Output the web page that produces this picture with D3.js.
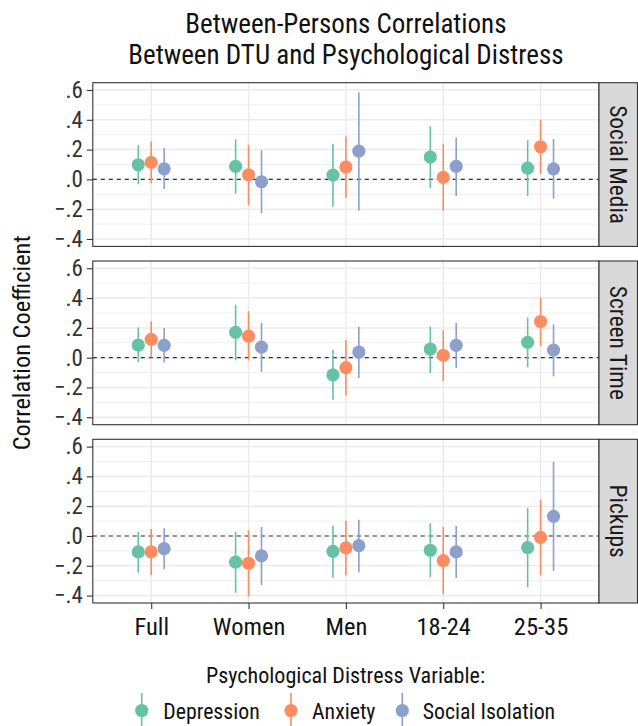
<!DOCTYPE html>
<html>
<head>
<meta charset="utf-8">
<script src="https://cdn.jsdelivr.net/npm/d3@7"></script>
<style>
  body { margin: 0; background: #fff; }
  svg { display: block; font-family: "Liberation Sans Narrow", "Roboto Condensed", "DejaVu Sans Condensed", sans-serif; }
</style>
</head>
<body>
<svg id="chart" width="638" height="726"></svg>
<script>
const categories = ['Full', 'Women', 'Men', '18-24', '25-35'];
const facets = ['Social Media', 'Screen Time', 'Pickups'];
const seriesNames = ['Depression', 'Anxiety', 'Social Isolation'];
const seriesColors = ['#66c2a5', '#fc8d62', '#8da0cb'];
const yTicks = [-0.4, -0.2, 0, 0.2, 0.4, 0.6];
const yMinor = [-0.3, -0.1, 0.1, 0.3, 0.5];

// [estimate, lower, upper] per category
const socialMediaDepression = [[0.098, -0.033, 0.230], [0.087, -0.096, 0.270], [0.029, -0.183, 0.239], [0.150, -0.058, 0.357], [0.076, -0.112, 0.263]];
const socialMediaAnxiety = [[0.114, -0.027, 0.254], [0.031, -0.174, 0.232], [0.083, -0.123, 0.288], [0.013, -0.210, 0.239], [0.219, 0.036, 0.400]];
const socialMediaIsolation = [[0.071, -0.065, 0.210], [-0.016, -0.228, 0.196], [0.190, -0.210, 0.583], [0.087, -0.112, 0.281], [0.071, -0.129, 0.270]];

const screenTimeDepression = [[0.085, -0.029, 0.203], [0.170, -0.018, 0.355], [-0.116, -0.283, 0.054], [0.058, -0.103, 0.208], [0.103, -0.065, 0.270]];
const screenTimeAnxiety = [[0.123, 0.002, 0.243], [0.145, -0.018, 0.312], [-0.067, -0.252, 0.118], [0.016, -0.156, 0.185], [0.243, 0.078, 0.404]];
const screenTimeIsolation = [[0.083, -0.033, 0.199], [0.071, -0.096, 0.234], [0.038, -0.136, 0.208], [0.083, -0.069, 0.232], [0.051, -0.125, 0.223]];

const pickupsDepression = [[-0.107, -0.246, 0.029], [-0.176, -0.382, 0.029], [-0.103, -0.279, 0.069], [-0.096, -0.277, 0.085], [-0.078, -0.344, 0.188]];
const pickupsAnxiety = [[-0.107, -0.263, 0.047], [-0.183, -0.404, 0.038], [-0.080, -0.263, 0.103], [-0.165, -0.390, 0.060], [-0.009, -0.263, 0.243]];
const pickupsIsolation = [[-0.085, -0.223, 0.051], [-0.134, -0.330, 0.060], [-0.065, -0.243, 0.109], [-0.107, -0.283, 0.067], [0.132, -0.234, 0.498]];

const facetData = [
    [socialMediaDepression, socialMediaAnxiety, socialMediaIsolation],
    [screenTimeDepression, screenTimeAnxiety, screenTimeIsolation],
    [pickupsDepression, pickupsAnxiety, pickupsIsolation]
];

const PANEL_LEFT = 92.8;
const PANEL_RIGHT = 599;
const STRIP_W = 38.5;
const PANEL_H = 163.7;
const PANEL_TOPS = [82.7, 261, 439.3];
const DODGE = 0.133;
const POINT_R = 6.6;
const INK = '#333333';

const svg = d3.select('#chart');

const x = d3.scalePoint()
    .domain(categories)
    .range([PANEL_LEFT, PANEL_RIGHT])
    .padding(0.6);

const fmt = v => (v < -1e-9 ? '\u2212' : '') + Math.abs(v).toFixed(1).replace(/^0/, '');

// title
const title = svg.append('g')
    .attr('font-size', 27)
    .attr('fill', '#111')
    .attr('text-anchor', 'middle');
title.append('text').attr('x', (PANEL_LEFT + PANEL_RIGHT) / 2).attr('y', 32.5).text('Between-Persons Correlations');
title.append('text').attr('x', (PANEL_LEFT + PANEL_RIGHT) / 2).attr('y', 64).text('Between DTU and Psychological Distress');

facets.forEach((facet, fi) => {
    const top = PANEL_TOPS[fi];
    const y = d3.scaleLinear().domain([-0.45, 0.649]).range([top + PANEL_H, top]);
    const g = svg.append('g');

    g.append('rect')
        .attr('x', PANEL_LEFT).attr('y', top)
        .attr('width', PANEL_RIGHT - PANEL_LEFT).attr('height', PANEL_H)
        .attr('fill', '#fff');

    // grid
    g.selectAll('.minor').data(yMinor).join('line')
        .attr('x1', PANEL_LEFT).attr('x2', PANEL_RIGHT)
        .attr('y1', d => y(d)).attr('y2', d => y(d))
        .attr('stroke', '#ebebeb').attr('stroke-width', 0.8);
    g.selectAll('.major').data(yTicks).join('line')
        .attr('x1', PANEL_LEFT).attr('x2', PANEL_RIGHT)
        .attr('y1', d => y(d)).attr('y2', d => y(d))
        .attr('stroke', '#ebebeb').attr('stroke-width', 1.5);
    g.selectAll('.vgrid').data(categories).join('line')
        .attr('x1', d => x(d)).attr('x2', d => x(d))
        .attr('y1', top).attr('y2', top + PANEL_H)
        .attr('stroke', '#ebebeb').attr('stroke-width', 1.5);

    // zero reference
    g.append('line')
        .attr('x1', PANEL_LEFT).attr('x2', PANEL_RIGHT)
        .attr('y1', y(0)).attr('y2', y(0))
        .attr('stroke', '#333').attr('stroke-width', 1.1)
        .attr('stroke-dasharray', '4,4');

    // pointranges
    facetData[fi].forEach((rows, si) => {
        const sg = g.append('g');
        const off = (si - 1) * DODGE * x.step();
        sg.selectAll('line').data(rows).join('line')
            .attr('x1', (d, i) => x(categories[i]) + off)
            .attr('x2', (d, i) => x(categories[i]) + off)
            .attr('y1', d => y(d[1]))
            .attr('y2', d => y(d[2]))
            .attr('stroke', seriesColors[si])
            .attr('stroke-width', 1.6);
        sg.selectAll('circle').data(rows).join('circle')
            .attr('cx', (d, i) => x(categories[i]) + off)
            .attr('cy', d => y(d[0]))
            .attr('r', POINT_R)
            .attr('fill', seriesColors[si]);
    });

    // border
    g.append('rect')
        .attr('x', PANEL_LEFT).attr('y', top)
        .attr('width', PANEL_RIGHT - PANEL_LEFT).attr('height', PANEL_H)
        .attr('fill', 'none').attr('stroke', INK).attr('stroke-width', 1.1);

    // y axis
    const yAxis = g.append('g')
        .attr('transform', `translate(${PANEL_LEFT},0)`)
        .call(d3.axisLeft(y).tickValues(yTicks).tickFormat(fmt).tickSize(6).tickPadding(4))
        .attr('font-family', null)
        .attr('font-size', 23);
    yAxis.select('.domain').remove();
    yAxis.selectAll('.tick line').attr('stroke', INK).attr('stroke-width', 1.1);
    yAxis.selectAll('.tick text').attr('fill', '#333');

    // strip
    g.append('rect')
        .attr('x', PANEL_RIGHT).attr('y', top)
        .attr('width', STRIP_W).attr('height', PANEL_H)
        .attr('fill', '#d9d9d9').attr('stroke', INK).attr('stroke-width', 1.1);
    g.append('text')
        .attr('transform', `translate(${PANEL_RIGHT + STRIP_W / 2 - 8},${top + PANEL_H / 2}) rotate(90)`)
        .attr('text-anchor', 'middle')
        .attr('font-size', 23.4)
        .attr('fill', '#1a1a1a')
        .text(facet);

    if (fi === facets.length - 1) {
        const xAxis = g.append('g')
            .attr('transform', `translate(0,${top + PANEL_H})`)
            .call(d3.axisBottom(x).tickSize(6).tickPadding(5))
            .attr('font-family', null)
            .attr('font-size', 24.5);
        xAxis.select('.domain').remove();
        xAxis.selectAll('.tick line').attr('stroke', INK).attr('stroke-width', 1.1);
        xAxis.selectAll('.tick text')
            .attr('fill', '#111')
            .attr('dy', '0.85em');
    }
});

// y axis title
svg.append('text')
    .attr('transform', `translate(30,${(PANEL_TOPS[0] + PANEL_TOPS[2] + PANEL_H) / 2}) rotate(-90)`)
    .attr('text-anchor', 'middle')
    .attr('font-size', 24.4)
    .attr('fill', '#111')
    .text('Correlation Coefficient');

// legend
svg.append('text')
    .attr('x', 345.5).attr('y', 683)
    .attr('text-anchor', 'middle')
    .attr('font-size', 22.1)
    .attr('fill', '#111')
    .text('Psychological Distress Variable:');

const legendKeyX = [141.7, 291, 402.3];
const legendTextX = [163.3, 312, 422.7];
const legend = svg.append('g');
seriesNames.forEach((name, i) => {
    legend.append('line')
        .attr('x1', legendKeyX[i]).attr('x2', legendKeyX[i])
        .attr('y1', 693).attr('y2', 726)
        .attr('stroke', seriesColors[i]).attr('stroke-width', 1.6);
    legend.append('circle')
        .attr('cx', legendKeyX[i]).attr('cy', 710.5)
        .attr('r', POINT_R)
        .attr('fill', seriesColors[i]);
    legend.append('text')
        .attr('x', legendTextX[i]).attr('y', 718.5)
        .attr('font-size', 21.8)
        .attr('fill', '#111')
        .text(name);
});
</script>
</body>
</html>
